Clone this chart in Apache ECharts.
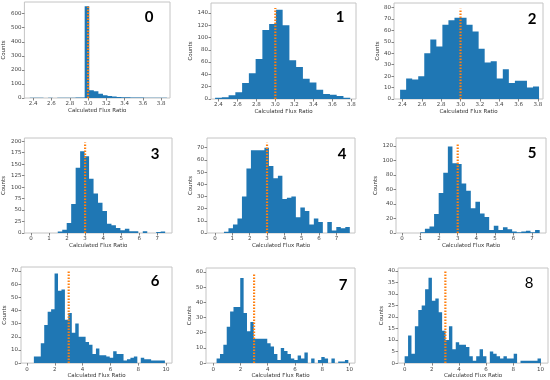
<!DOCTYPE html>
<html><head><meta charset="utf-8">
<script src="https://cdn.jsdelivr.net/npm/echarts@6/dist/echarts.min.js"></script>
<style>html,body{margin:0;padding:0;background:#fff}#c{width:550px;height:380px}</style>
</head><body><div id="c"></div>
<script>
// ---------- data ----------
const panelNames = ['0','1','2','3','4','5','6','7','8'];
const binStart = [2.363, 2.366, 2.376, 0, 0, 0, 0, 0, 0];
const binWidth = [0.05, 0.0711, 0.0624, 0.2477, 0.259, 0.247, 0.248, 0.248, 0.251];
const counts0 = [2,1,1,0,1,0,1,1,2,2,3,4,653,55,48,30,20,15,10,8,6,5,4,3,3,2,2,1,1,1];
const counts1 = [2,3,6,11,26,42,65,112,122,145,120,63,52,33,27,15,8,7,5,2];
const counts2 = [8,18,17,20,40,52,46,65,69,71,71,65,59,44,32,33,18,26,14,16,16,10,11];
const counts3 = [0,0,0,0,0,0,3,7,22,63,142,178,167,118,86,66,48,20,17,11,6,9,4,4,0,4,0,0,2,3];
const counts4 = [0,0,1,4,7,12,30,53,68,68,68,70,55,45,47,28,29,30,13,21,18,7,12,9,0,9,2,5,4,5];
const counts5 = [0,0,0,0,1,6,9,26,55,83,119,96,95,68,58,34,43,27,22,4,10,4,8,5,2,1,2,3,1,4];
const counts6 = [0,0,5,5,15,29,39,41,68,55,56,33,38,23,30,20,20,16,14,7,11,6,6,5,4,9,7,7,2,3,4,5,0,4,3,3,2,2,2,2];
const counts7 = [0,3,6,12,24,34,37,37,56,33,21,27,16,16,16,16,13,11,6,2,10,8,6,3,2,5,3,7,0,3,0,2,4,3,0,3,0,1,1,2];
const counts8 = [3,12,4,16,23,25,32,37,27,28,22,14,10,16,6,9,8,8,7,3,1,3,6,3,0,5,4,3,2,3,2,2,4,0,1,1,1,1,1,2];
const allCounts = [counts0,counts1,counts2,counts3,counts4,counts5,counts6,counts7,counts8];
const refValue = 3;
const refTop = [650, 148, 79, 197, 74, 124, 70, 59, 40];
const xMin = [2.304, 2.323, 2.313, -0.36, -0.46, -0.32, -0.43, -0.53, -0.49];
const xMax = [3.896, 3.849, 3.852, 7.81, 8.07, 7.75, 10.43, 10.41, 10.56];
const yMax = [683, 156, 84, 207, 78, 130.8, 73, 62.6, 41.2];
const xTicksA = [2.4, 2.6, 2.8, 3.0, 3.2, 3.4, 3.6, 3.8];
const xTicksB = [0, 1, 2, 3, 4, 5, 6, 7];
const xTicksC = [0, 2, 4, 6, 8, 10];
const xTickSets = [xTicksA, xTicksA, xTicksA, xTicksB, xTicksB, xTicksB, xTicksC, xTicksC, xTicksC];
const yTickStep = [100, 20, 10, 25, 10, 20, 10, 10, 5];
const xLabel = 'Calculated Flux Ratio';
const yLabel = 'Counts';

// ---------- layout ----------
const grids = [
  {left:21, top:2, width:149, height:96},
  {left:211, top:3, width:145, height:96},
  {left:394, top:3, width:149, height:96},
  {left:21, top:138, width:151, height:95},
  {left:207, top:138, width:148, height:95},
  {left:396, top:138, width:150, height:95},
  {left:21, top:267, width:151, height:97},
  {left:206, top:268, width:149, height:96},
  {left:398, top:268, width:150, height:97}
];
const yNameGap = [13, 13, 13, 14, 10, 14, 13, 11, 12];
const labelPos = [[149,17],[340,17],[532,19],[155,154],[342,154],[532,153],[155,281],[343,285],[529,283]];

const blue = '#1f77b4', orange = '#ff7f0e';
// one step-shaped polygon per histogram (built with the axis scales via api.coord)
function makeRenderer(bins) {
  return function (params, api) {
    if (params.dataIndex !== 0) return null;
    const pts = [api.coord([bins[0][0], 0])];
    for (const b of bins) {
      pts.push(api.coord([b[0], b[2]]));
      pts.push(api.coord([b[1], b[2]]));
    }
    pts.push(api.coord([bins[bins.length - 1][1], 0]));
    return {type:'polygon', shape:{points:pts}, style:{fill:blue}};
  };
}

const option = {animation:false, grid:[], xAxis:[], yAxis:[], series:[], graphic:[]};
for (let i = 0; i < 9; i++) {
  option.grid.push(Object.assign({show:true, borderColor:'#c4c4c4', borderWidth:1, containLabel:false, backgroundColor:'transparent'}, grids[i]));
  const dec = i < 3;
  option.xAxis.push({gridIndex:i, type:'value', min:xMin[i], max:xMax[i],
    axisLine:{show:false, onZero:false}, splitLine:{show:false},
    axisTick:{show:true, length:2.5, customValues:xTickSets[i], lineStyle:{color:'#666', width:0.8}},
    axisLabel:{customValues:xTickSets[i], fontSize:5.5, color:'#444', margin:3, fontFamily:'DejaVu Sans',
      formatter: v => dec ? Number(v).toFixed(1) : String(v)},
    name:xLabel, nameLocation:'middle', nameGap:9, nameTextStyle:{fontSize:5.5, color:'#333', fontFamily:'DejaVu Sans'}});
  option.yAxis.push({gridIndex:i, type:'value', min:0, max:yMax[i], interval:yTickStep[i],
    axisLine:{show:false, onZero:false}, splitLine:{show:false},
    axisTick:{show:true, length:2.5, lineStyle:{color:'#666', width:0.8}},
    axisLabel:{fontSize:5.5, color:'#444', margin:3, fontFamily:'DejaVu Sans', showMaxLabel:false, showMinLabel:true,
      formatter: v => (Math.abs(v / yTickStep[i] - Math.round(v / yTickStep[i])) < 1e-6) ? String(v) : ''},
    name:yLabel, nameLocation:'middle', nameGap:yNameGap[i], nameRotate:90,
    nameTextStyle:{fontSize:5.5, color:'#333', fontFamily:'DejaVu Sans'}});
  const bins = allCounts[i].map((c, k) => [binStart[i] + k*binWidth[i], binStart[i] + (k+1)*binWidth[i], c]);
  option.series.push({type:'custom', xAxisIndex:i, yAxisIndex:i, renderItem:makeRenderer(bins), data:bins,
    encode:{x:[0,1], y:2}, clip:true, silent:true, z:2});
  option.series.push({type:'line', xAxisIndex:i, yAxisIndex:i, data:[[refValue,0],[refValue,refTop[i]]],
    symbol:'none', silent:true, z:5,
    lineStyle:{color:orange, width:2.2, type:[1.6,1.4], cap:'butt'}});
  option.graphic.push({type:'text', x:labelPos[i][0], y:labelPos[i][1],
    style:{text:panelNames[i], fontSize:15, fontWeight: i === 8 ? 'normal' : 'bold', fontFamily:'Lato', fill:'#000',
      align:'center', verticalAlign:'middle'}});
}
const chart = echarts.init(document.getElementById('c'), null, {renderer:'canvas'});
chart.setOption(option);
</script>
</body></html>
